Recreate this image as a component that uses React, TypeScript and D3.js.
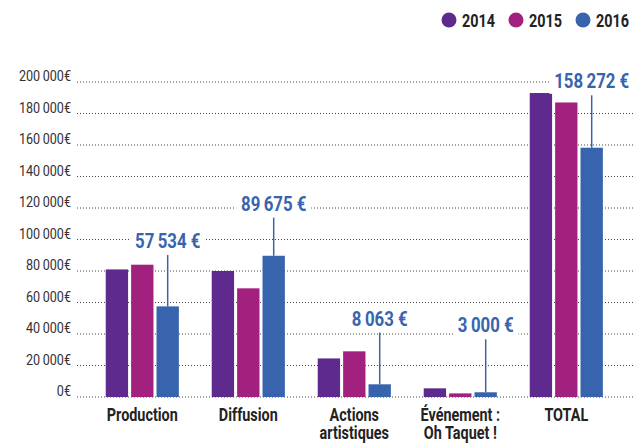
import React, { useEffect, useRef } from "react";
import * as d3 from "d3";

const categories = ["Production", "Diffusion", "Actions\nartistiques", "Événement :\nOh Taquet !", "TOTAL"];
const years = ["2014", "2015", "2016"];
const values2014 = [81000, 80000, 24500, 5500, 193000];
const values2015 = [84000, 69000, 29000, 2300, 187000];
const values2016 = [57534, 89675, 8063, 3000, 158272];
const yTicks = [0, 20000, 40000, 60000, 80000, 100000, 120000, 140000, 160000, 180000, 200000];
// level (in euros) where each 2016 callout sits
const calloutAt = [94600, 118300, 45300, 41100, 196000];

const colors = ["#5f2a8d", "#a2217f", "#3864ae"];
const font = "Roboto, 'Liberation Sans', sans-serif";
const squeeze = 0.8; // fake a condensed face

const locale = d3.formatLocale({ decimal: ",", thousands: "\u2009", grouping: [3], currency: ["", "€"] });
const fmt = locale.format(",d");

const App = () => {
  const ref = useRef<SVGSVGElement>(null);

  useEffect(() => {
    const width = 633;
    const height = 446;
    const svg = d3.select(ref.current);
    svg.selectAll("*").remove();
    svg.attr("width", width).attr("height", height);

    const table = categories.map((c, i) => ({
      cat: c,
      vals: [values2014[i], values2015[i], values2016[i]],
      callout: calloutAt[i],
    }));

    const x = d3.scaleBand().domain(categories).range([89.3, 619.3]).paddingInner(0.31).paddingOuter(0.155);
    const xIn = d3.scaleBand().domain(years).range([0, x.bandwidth()]).paddingInner(0.12);
    const y = d3.scaleLinear().domain([0, 200000]).range([397, 82]);

    // grid
    svg
      .append("g")
      .selectAll("line")
      .data(yTicks)
      .enter()
      .append("line")
      .attr("x1", 77)
      .attr("x2", width)
      .attr("y1", (d) => y(d))
      .attr("y2", (d) => y(d))
      .attr("stroke", "#444")
      .attr("stroke-width", 1)
      .attr("stroke-dasharray", "1,2");

    svg
      .append("g")
      .selectAll("g")
      .data(yTicks)
      .enter()
      .append("g")
      .attr("transform", (d) => `translate(71,${y(d) - 1}) scale(0.9,1)`)
      .append("text")
      .attr("text-anchor", "end")
      .attr("font-family", font)
      .attr("font-size", 14)
      .attr("fill", "#333")
      .text((d) => fmt(d) + "€");

    // bars
    const groups = svg
      .append("g")
      .selectAll("g")
      .data(table)
      .enter()
      .append("g")
      .attr("transform", (d) => `translate(${x(d.cat)},0)`);

    groups
      .selectAll("rect")
      .data((d) => d.vals.map((v, j) => ({ year: years[j], v, j })))
      .enter()
      .append("rect")
      .attr("x", (d) => xIn(d.year)!)
      .attr("y", (d) => y(d.v))
      .attr("width", xIn.bandwidth())
      .attr("height", (d) => y(0) - y(d.v))
      .attr("fill", (d) => colors[d.j]);

    // 2016 callouts
    table.forEach((d) => {
      const cx = x(d.cat)! + xIn("2016")! + xIn.bandwidth() / 2;
      const by = y(d.callout);
      const g = svg.append("g").attr("transform", `translate(${cx},${by}) scale(${squeeze},1)`);
      const bg = g.append("rect").attr("fill", "#fff");
      const t = g
        .append("text")
        .attr("text-anchor", "middle")
        .attr("font-family", font)
        .attr("font-weight", "bold")
        .attr("font-size", 21)
        .attr("fill", colors[2])
        .text(fmt(d.vals[2]) + " €");
      const bb = (t.node() as SVGTextElement).getBBox();
      bg.attr("x", bb.x - 6).attr("y", bb.y).attr("width", bb.width + 12).attr("height", bb.height);
      svg
        .append("line")
        .attr("x1", cx)
        .attr("x2", cx)
        .attr("y1", by + 7)
        .attr("y2", y(d.vals[2]))
        .attr("stroke", colors[2])
        .attr("stroke-width", 1.5);
    });

    // category labels, one text per line
    const catLines = categories.flatMap((c) => c.split("\n").map((line, i) => ({ c, line, i })));
    svg
      .append("g")
      .selectAll("g")
      .data(catLines)
      .enter()
      .append("g")
      .attr("transform", (d) => `translate(${x(d.c)! + x.bandwidth() / 2},${421 + d.i * 18}) scale(${squeeze},1)`)
      .append("text")
      .attr("text-anchor", "middle")
      .attr("font-family", font)
      .attr("font-weight", "bold")
      .attr("font-size", 18)
      .attr("fill", "#222")
      .text((d) => d.line);

    // legend
    const legend = svg
      .append("g")
      .selectAll("g")
      .data(years)
      .enter()
      .append("g")
      .attr("transform", (d, i) => `translate(${449 + i * 67},20)`);
    legend.append("circle").attr("r", 7.5).attr("fill", (d, i) => colors[i]);
    legend
      .append("g")
      .attr("transform", `translate(13,7) scale(${squeeze},1)`)
      .append("text")
      .attr("font-family", font)
      .attr("font-weight", "bold")
      .attr("font-size", 18)
      .attr("fill", "#222")
      .text((d) => d);
  }, []);

  return (
    <div>
      <style>{`body{margin:0}`}</style>
      <svg ref={ref}></svg>
    </div>
  );
};

export default App;
